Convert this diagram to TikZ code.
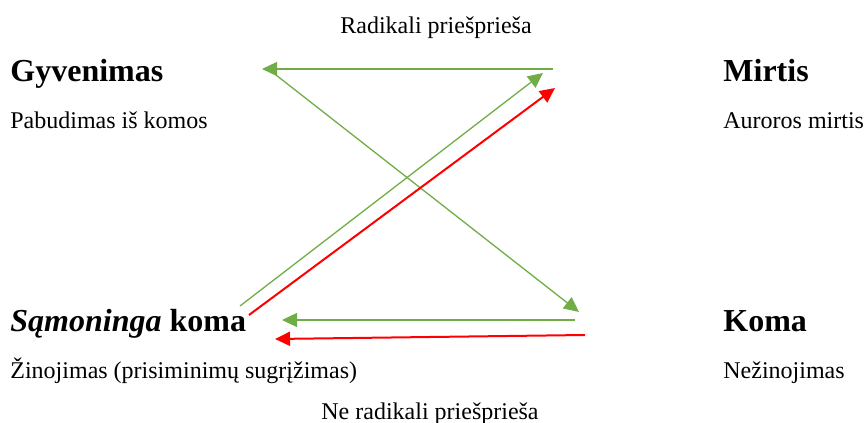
\documentclass[tikz,border=0pt]{standalone}
\usepackage{fontspec}
\setmainfont{Liberation Serif}
\usetikzlibrary{arrows.meta}
\definecolor{ogreen}{HTML}{70AD47}
\definecolor{ored}{HTML}{FF0000}
\tikzset{
  txt/.style={inner sep=0pt, anchor=base west, font=\fontsize{12}{14}\selectfont},
  ctxt/.style={inner sep=0pt, anchor=base, font=\fontsize{12}{14}\selectfont},
  head/.style={inner sep=0pt, anchor=base west, font=\fontsize{16}{19}\selectfont\bfseries},
  garrow/.style={draw=ogreen, line width=0.65pt, -{Triangle[length=7.5pt,width=7pt]}},
  rarrow/.style={draw=ored, line width=1pt, -{Triangle[length=7.5pt,width=7pt]}}
}
\begin{document}
\begin{tikzpicture}[x=0.5pt,y=-0.5pt]
\useasboundingbox (0,0) rectangle (864,423);
% texts
\node[ctxt] (rad) at (436,33) {Radikali priešprieša};
\node[head] (gyv) at (10,82) {Gyvenimas};
\node[txt] (pab) at (10,128) {Pabudimas iš komos};
\node[head] (mir) at (723,82) {Mirtis};
\node[txt] (aur) at (723,128) {Auroros mirtis};
\node[head] (sam) at (10,331) {\textit{Sąmoninga} koma};
\node[txt] (zin) at (10,378) {Žinojimas (prisiminimų sugrįžimas)};
\node[head] (kom) at (723,331) {Koma};
\node[txt] (nez) at (723,378) {Nežinojimas};
\node[ctxt] (ner) at (430,419) {Ne radikali priešprieša};
% arrow ends
\coordinate (a1s) at (553,69);  \coordinate (a1e) at (262,69);
\coordinate (a2s) at (276,75);  \coordinate (a2e) at (579,312);
\coordinate (a3s) at (240,306); \coordinate (a3e) at (543,73);
\coordinate (a4s) at (249,315); \coordinate (a4e) at (555,88);
\coordinate (a5s) at (575,320); \coordinate (a5e) at (282,320);
\coordinate (a6s) at (585,335); \coordinate (a6e) at (275,339);
\draw[garrow] (a1s) -- (a1e);
\draw[garrow] (a2s) -- (a2e);
\draw[garrow] (a3s) -- (a3e);
\draw[rarrow] (a4s) -- (a4e);
\draw[garrow] (a5s) -- (a5e);
\draw[rarrow] (a6s) -- (a6e);
\end{tikzpicture}
\end{document}
